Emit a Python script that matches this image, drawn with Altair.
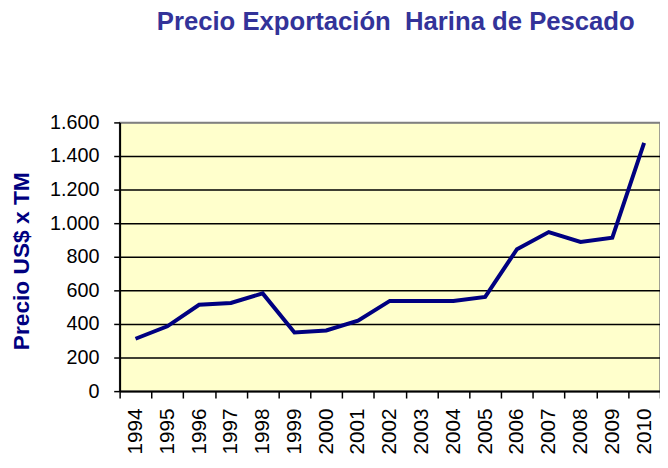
import altair as alt
import pandas as pd

years = ["1994", "1995", "1996", "1997", "1998", "1999", "2000", "2001", "2002",
         "2003", "2004", "2005", "2006", "2007", "2008", "2009", "2010"]
prices = [312, 386, 514, 525, 582, 349, 361, 420, 537,
          537, 537, 561, 845, 947, 888, 914, 1478]
y_ticks = [0, 200, 400, 600, 800, 1000, 1200, 1400, 1600]

df = pd.DataFrame({"year": years, "price": prices})

chart = alt.Chart(df).mark_line(color="#000080", strokeWidth=4).encode(
    x=alt.X("year:N", sort=years, title=None,
            scale=alt.Scale(paddingInner=0, paddingOuter=0),
            axis=alt.Axis(labelAngle=270, labelFont="Liberation Sans", labelFontSize=21,
                          labelColor="black", tickBand="extent", tickSize=7,
                          tickColor="black", tickWidth=1.5, domainColor="black",
                          domainWidth=2, labelPadding=10, grid=False)),
    y=alt.Y("price:Q", title="Precio US$ x TM",
            scale=alt.Scale(domain=[0, 1600], nice=False),
            axis=alt.Axis(values=y_ticks,
                          labelExpr="replace(format(datum.value, ','), ',', '.')",
                          labelFont="Liberation Sans", labelFontSize=20, labelColor="black",
                          labelPadding=15, tickSize=6, tickColor="black", tickWidth=1.5,
                          domainColor="black", domainWidth=2,
                          grid=True, gridWidth=1.5,
                          gridColor={"condition": {"test": "datum.value >= 1600", "value": "#808080"}, "value": "black"},
                          titleFont="Liberation Sans", titleFontSize=23, titleFontWeight="bold",
                          titleColor="#000080", titleX=-92, titleY=140,
                          titleBaseline="alphabetic")),
).properties(
    width=547,
    height=272,
    title=alt.TitleParams("Precio Exportación\u00a0 Harina de Pescado", font="Liberation Sans",
                          fontSize=26, fontWeight="bold", color="#333399",
                          anchor="middle", baseline="alphabetic", offset=58, dx=6),
    autosize=alt.AutoSizeParams(type="none"),
    padding={"left": 113, "top": 113, "right": 0, "bottom": 75},
).configure_view(
    fill="#FFFFCC", stroke="#808080", strokeWidth=1.5
)

chart.save("out.html", embed_options={"renderer": "svg", "actions": False})
